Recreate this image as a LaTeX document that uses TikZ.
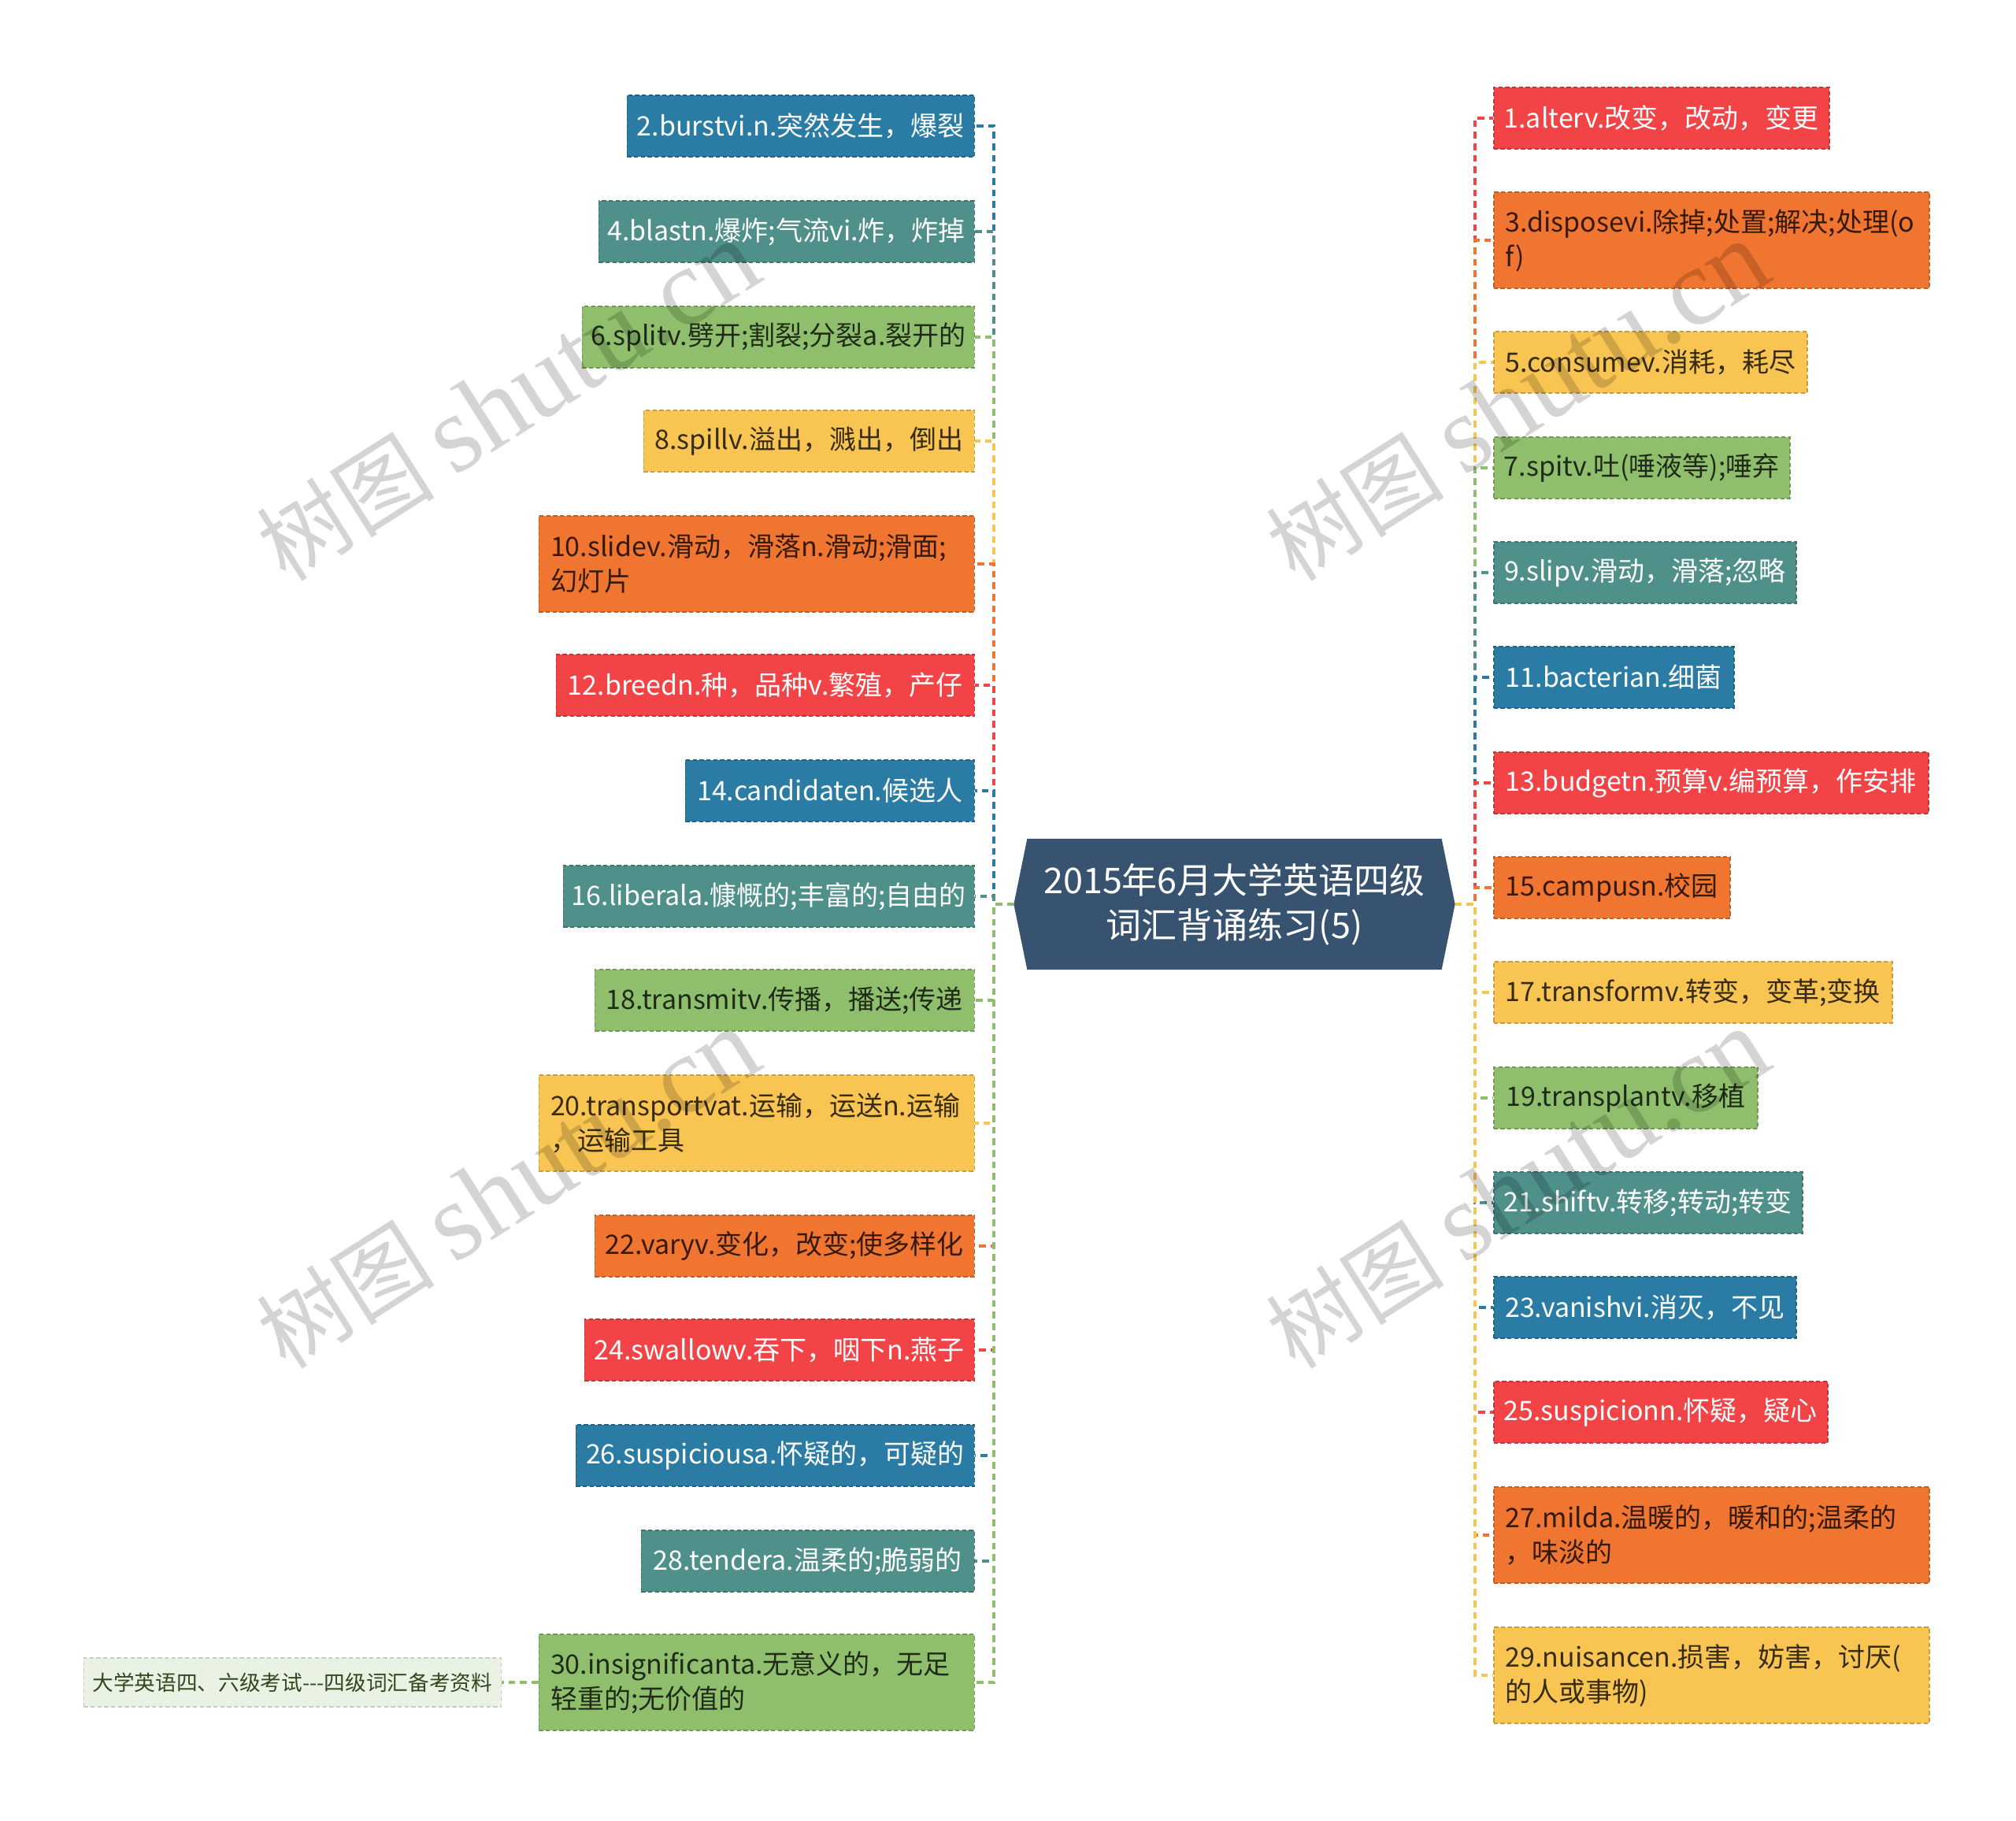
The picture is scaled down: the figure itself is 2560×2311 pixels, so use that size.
\documentclass[tikz,border=0pt]{standalone}
\usepackage{fontspec}
\setmainfont{Noto Sans CJK SC}
\newfontfamily\wmserif{Liberation Serif}
\usetikzlibrary{calc}
\definecolor{cblue}{HTML}{2A7CA4}
\definecolor{cteal}{HTML}{4F908A}
\definecolor{cgreen}{HTML}{8FBF6C}
\definecolor{cyellow}{HTML}{F8C553}
\definecolor{corange}{HTML}{F07530}
\definecolor{cred}{HTML}{F24346}
\definecolor{croot}{HTML}{37536F}
\definecolor{cextra}{HTML}{EAF2E3}
\definecolor{cextratext}{HTML}{34481F}
\newcommand\fsnode{\fontsize{10.2pt}{13.2pt}\selectfont}
\newcommand\fsroot{\fontsize{13.5pt}{17.1pt}\selectfont}
\newcommand\fsextra{\fontsize{8pt}{10pt}\selectfont}
\pgfdeclarelayer{background}
\pgfdeclarelayer{bottom}
\pgfsetlayers{bottom,background,main}
\tikzset{
  wb/.style={rectangle, fill=#1, draw=#1!80!black, line width=0.45pt,
    dash pattern=on 1.6pt off 1pt, text=white, font=\fsnode,
    minimum height=23.4pt, inner xsep=3pt, inner ysep=2pt},
  db/.style={wb=#1, text=#1!22!black},
  tw/.style={align=left, text width=157pt, inner xsep=4.45pt, minimum height=36.6pt},
  conn/.style={draw=#1, line width=1.05pt, dash pattern=on 2.6pt off 1.8pt},
  wm/.style={rotate=32.4, text=black, opacity=0.17, inner sep=0pt},
}
\begin{document}
\begin{tikzpicture}[x=0.3pt,y=-0.3pt]
\begin{pgfonlayer}{bottom}
\fill[white] (0,0) rectangle (2560,2311);
\end{pgfonlayer}
\useasboundingbox (0,0) rectangle (2560,2311);

% root
\node[minimum width=167.7pt, minimum height=49.5pt, text=white, font=\fsroot, align=center, inner sep=0pt]
  (root) at (1567.5,1148) {2015年6月大学英语四级\\词汇背诵练习(5)};
\begin{pgfonlayer}{background}
\fill[croot] (root.west) -- ([xshift=5.1pt]root.north west) -- ([xshift=-5.1pt]root.north east)
  -- (root.east) -- ([xshift=-5.1pt]root.south east) -- ([xshift=5.1pt]root.south west) -- cycle;
\end{pgfonlayer}

\coordinate (lbus) at (1262,1148);
\coordinate (rbus) at (1873,1148);

% left nodes
\node[wb=cblue,   anchor=east, minimum width=132.3pt] (L2)  at (1238,160)  {2.burstvi.n.突然发生，爆裂};
\node[wb=cteal,   anchor=east, minimum width=143.1pt] (L4)  at (1238,294)  {4.blastn.爆炸;气流vi.炸，炸掉};
\node[db=cgreen,  anchor=east, minimum width=149.4pt] (L6)  at (1238,428)  {6.splitv.劈开;割裂;分裂a.裂开的};
\node[db=cyellow, anchor=east, minimum width=126pt]   (L8)  at (1238,560)  {8.spillv.溢出，溅出，倒出};
\node[db=corange, tw, anchor=east] (L10) at (1238,716) {10.slidev.滑动，滑落n.滑动;滑面;\\幻灯片};
\node[wb=cred,    anchor=east, minimum width=159.3pt] (L12) at (1238,870)  {12.breedn.种，品种v.繁殖，产仔};
\node[wb=cblue,   anchor=east, minimum width=110.1pt] (L14) at (1238,1004) {14.candidaten.候选人};
\node[wb=cteal,   anchor=east, minimum width=156.6pt] (L16) at (1238,1138) {16.liberala.慷慨的;丰富的;自由的};
\node[db=cgreen,  anchor=east, minimum width=144.6pt] (L18) at (1238,1270) {18.transmitv.传播，播送;传递};
\node[db=cyellow, tw, anchor=east] (L20) at (1238,1426) {20.transportvat.运输，运送n.运输\\，运输工具};
\node[db=corange, anchor=east, minimum width=144.6pt] (L22) at (1238,1582) {22.varyv.变化，改变;使多样化};
\node[wb=cred,    anchor=east, minimum width=148.5pt] (L24) at (1238,1714) {24.swallowv.吞下，咽下n.燕子};
\node[wb=cblue,   anchor=east, minimum width=151.8pt] (L26) at (1238,1848) {26.suspiciousa.怀疑的，可疑的};
\node[wb=cteal,   anchor=east, minimum width=126.9pt] (L28) at (1238,1982) {28.tendera.温柔的;脆弱的};
\node[db=cgreen,  tw, anchor=east] (L30) at (1238,2136) {30.insignificanta.无意义的，无足\\轻重的;无价值的};

\node[rectangle, fill=cextra, draw=cextra!85!black, line width=0.4pt, dash pattern=on 1.6pt off 1pt,
  text=cextratext, font=\fsextra, minimum width=158.4pt, minimum height=18.6pt, anchor=east]
  (X) at (637,2136) {大学英语四、六级考试{-}{-}{-}四级词汇备考资料};

% right nodes
\node[wb=cred,    anchor=west, minimum width=127.8pt] (R1)  at (1896,150)  {1.alterv.改变，改动，变更};
\node[db=corange, tw, anchor=west] (R3) at (1896,305) {3.disposevi.除掉;处置;解决;处理(o\\f)};
\node[db=cyellow, anchor=west, minimum width=119.4pt] (R5)  at (1896,460)  {5.consumev.消耗，耗尽};
\node[db=cgreen,  anchor=west, minimum width=112.8pt] (R7)  at (1896,594)  {7.spitv.吐(唾液等);唾弃};
\node[wb=cteal,   anchor=west, minimum width=115.2pt] (R9)  at (1896,727)  {9.slipv.滑动，滑落;忽略};
\node[wb=cblue,   anchor=west, minimum width=91.5pt]  (R11) at (1896,860)  {11.bacterian.细菌};
\node[wb=cred,    anchor=west, minimum width=165.6pt] (R13) at (1896,994)  {13.budgetn.预算v.编预算，作安排};
\node[db=corange, anchor=west, minimum width=90pt]    (R15) at (1896,1127) {15.campusn.校园};
\node[db=cyellow, anchor=west, minimum width=151.8pt] (R17) at (1896,1260) {17.transformv.转变，变革;变换};
\node[db=cgreen,  anchor=west, minimum width=100.5pt] (R19) at (1896,1394) {19.transplantv.移植};
\node[wb=cteal,   anchor=west, minimum width=117.6pt] (R21) at (1896,1527) {21.shiftv.转移;转动;转变};
\node[wb=cblue,   anchor=west, minimum width=115.2pt] (R23) at (1896,1660) {23.vanishvi.消灭，不见};
\node[wb=cred,    anchor=west, minimum width=127.2pt] (R25) at (1896,1793) {25.suspicionn.怀疑，疑心};
\node[db=corange, tw, anchor=west] (R27) at (1896,1949) {27.milda.温暖的，暖和的;温柔的\\，味淡的};
\node[db=cyellow, tw, anchor=west] (R29) at (1896,2127) {29.nuisancen.损害，妨害，讨厌(\\的人或事物)};

% connectors
\begin{pgfonlayer}{background}
\draw[conn=cblue]   (root.west) -- (lbus) |- (L2.east);
\draw[conn=cteal]   (root.west) -- (lbus) |- (L4.east);
\draw[conn=cgreen]  (root.west) -- (lbus) |- (L6.east);
\draw[conn=cyellow] (root.west) -- (lbus) |- (L8.east);
\draw[conn=corange] (root.west) -- (lbus) |- (L10.east);
\draw[conn=cred]    (root.west) -- (lbus) |- (L12.east);
\draw[conn=cblue]   (root.west) -- (lbus) |- (L14.east);
\draw[conn=cteal]   (root.west) -- (lbus) |- (L16.east);
\draw[conn=cgreen]  (root.west) -- (lbus) |- (L18.east);
\draw[conn=cyellow] (root.west) -- (lbus) |- (L20.east);
\draw[conn=corange] (root.west) -- (lbus) |- (L22.east);
\draw[conn=cred]    (root.west) -- (lbus) |- (L24.east);
\draw[conn=cblue]   (root.west) -- (lbus) |- (L26.east);
\draw[conn=cteal]   (root.west) -- (lbus) |- (L28.east);
\draw[conn=cgreen]  (root.west) -- (lbus) |- (L30.east);
\draw[conn=cgreen]  (L30.west) -- (X.east);

\draw[conn=cred]    (root.east) -- (rbus) |- (R1.west);
\draw[conn=corange] (root.east) -- (rbus) |- (R3.west);
\draw[conn=cyellow] (root.east) -- (rbus) |- (R5.west);
\draw[conn=cgreen]  (root.east) -- (rbus) |- (R7.west);
\draw[conn=cteal]   (root.east) -- (rbus) |- (R9.west);
\draw[conn=cblue]   (root.east) -- (rbus) |- (R11.west);
\draw[conn=cred]    (root.east) -- (rbus) |- (R13.west);
\draw[conn=corange] (root.east) -- (rbus) |- (R15.west);
\draw[conn=cyellow] (root.east) -- (rbus) |- (R17.west);
\draw[conn=cgreen]  (root.east) -- (rbus) |- (R19.west);
\draw[conn=cteal]   (root.east) -- (rbus) |- (R21.west);
\draw[conn=cblue]   (root.east) -- (rbus) |- (R23.west);
\draw[conn=cred]    (root.east) -- (rbus) |- (R25.west);
\draw[conn=corange] (root.east) -- (rbus) |- (R27.west);
\draw[conn=cyellow] (root.east) -- (rbus) |- (R29.west);
\end{pgfonlayer}

% watermarks
\node[wm] (W1) at (645,510)   {\fontsize{34pt}{34pt}\selectfont 树图 {\wmserif\fontsize{42pt}{42pt}\selectfont shutu.cn}};
\node[wm] (W2) at (1927,510)  {\fontsize{34pt}{34pt}\selectfont 树图 {\wmserif\fontsize{42pt}{42pt}\selectfont shutu.cn}};
\node[wm] (W3) at (645,1510)  {\fontsize{34pt}{34pt}\selectfont 树图 {\wmserif\fontsize{42pt}{42pt}\selectfont shutu.cn}};
\node[wm] (W4) at (1927,1510) {\fontsize{34pt}{34pt}\selectfont 树图 {\wmserif\fontsize{42pt}{42pt}\selectfont shutu.cn}};
\end{tikzpicture}
\end{document}
